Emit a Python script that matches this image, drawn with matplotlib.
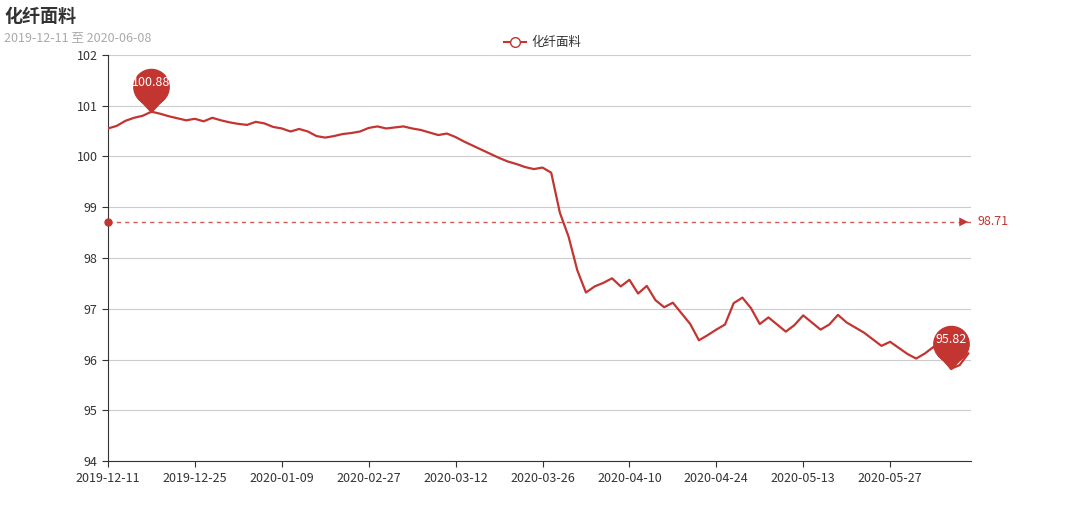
import matplotlib
matplotlib.use("Agg")
import matplotlib.pyplot as plt
from matplotlib.path import Path
import numpy as np

plt.rcParams['font.family'] = ['Noto Sans CJK SC', 'DejaVu Sans']

title = "化纤面料"
subtitle = "2019-12-11 至 2020-06-08"
tick_labels = ["2019-12-11", "2019-12-25", "2020-01-09", "2020-02-27", "2020-03-12",
               "2020-03-26", "2020-04-10", "2020-04-24", "2020-05-13", "2020-05-27"]
values = [100.55, 100.60, 100.70, 100.76, 100.80, 100.88, 100.84, 100.79, 100.75, 100.71,
          100.74, 100.69, 100.76, 100.71, 100.67, 100.64, 100.62, 100.68, 100.65, 100.58,
          100.55, 100.49, 100.54, 100.49, 100.40, 100.37, 100.40, 100.44, 100.46, 100.49,
          100.56, 100.59, 100.55, 100.57, 100.59, 100.55, 100.52, 100.47, 100.42, 100.45,
          100.38, 100.29, 100.21, 100.13, 100.05, 99.97, 99.90, 99.85, 99.79, 99.75,
          99.78, 99.68, 98.89, 98.42, 97.76, 97.32, 97.44, 97.51, 97.60, 97.44,
          97.57, 97.30, 97.45, 97.17, 97.03, 97.12, 96.91, 96.70, 96.38, 96.48,
          96.59, 96.69, 97.11, 97.22, 97.01, 96.70, 96.83, 96.69, 96.55, 96.68,
          96.87, 96.73, 96.59, 96.69, 96.88, 96.73, 96.63, 96.53, 96.40, 96.27,
          96.35, 96.23, 96.11, 96.02, 96.12, 96.25, 96.06, 95.82, 95.89, 96.12]
average = 98.71

red = "#c23531"
x = np.arange(len(values))

fig = plt.figure(figsize=(10.8, 5.17), dpi=100)
ax = fig.add_axes([0.1, 0.108, 0.799, 0.786])
ax.plot(x, values, color=red, lw=1.6, zorder=3)

ax.set_xlim(0, len(values) - 1 + 0.3)
ax.set_ylim(94, 102)
ax.set_yticks(range(94, 103))
ax.set_xticks(x[::10])
ax.set_xticklabels(tick_labels)
ax.tick_params(labelsize=9, colors="#333333", length=4)
ax.grid(axis='y', color="#cccccc", lw=0.8)
ax.set_axisbelow(True)
for s in ["top", "right"]:
    ax.spines[s].set_visible(False)
for s in ["left", "bottom"]:
    ax.spines[s].set_color("#333333")

# average line
ax.axhline(average, color=red, lw=1, ls=(0, (3, 3)), alpha=0.8, zorder=2)
ax.plot([0], [average], 'o', color=red, ms=5, clip_on=False, zorder=4)
ax.annotate("", xy=(1.0, average), xycoords=('axes fraction', 'data'),
            xytext=(-18, 0), textcoords='offset points',
            arrowprops=dict(arrowstyle='-|>', color=red, lw=0, mutation_scale=16))
ax.annotate(f"{average:.2f}", xy=(1.0, average), xycoords=('axes fraction', 'data'),
            xytext=(5, 0), textcoords='offset points', va='center', fontsize=9, color=red)

# pin markers for max / min
circ = Path.circle((0, 1.15), 0.8)
tri = Path([(-0.55, 0.6), (0, 0), (0.55, 0.6), (-0.55, 0.6)],
           [Path.MOVETO, Path.LINETO, Path.LINETO, Path.CLOSEPOLY])
pin = Path.make_compound_path(circ, tri)
for idx in [int(np.argmax(values)), int(np.argmin(values))]:
    ax.plot(x[idx], values[idx], marker=pin, ms=62, color=red, mec=red, zorder=5)
    ax.annotate(f"{values[idx]:.2f}", (x[idx], values[idx]), xytext=(0, 21),
                textcoords='offset points', ha='center', va='center',
                fontsize=9, color='white', zorder=6)

# legend
fig.lines.append(plt.Line2D([0.467, 0.487], [0.918, 0.918], color=red, lw=1.5,
                            transform=fig.transFigure))
fig.lines.append(plt.Line2D([0.477], [0.918], marker='o', ms=7, mfc='white', mec=red,
                            transform=fig.transFigure))
fig.text(0.492, 0.918, title, fontsize=9, va='center', color="#333333")

fig.text(0.004, 0.968, title, fontsize=13, fontweight='bold', va='center', color="#333333")
fig.text(0.004, 0.928, subtitle, fontsize=9, va='center', color="#aaaaaa")

fig.savefig("out.png", dpi=100)
